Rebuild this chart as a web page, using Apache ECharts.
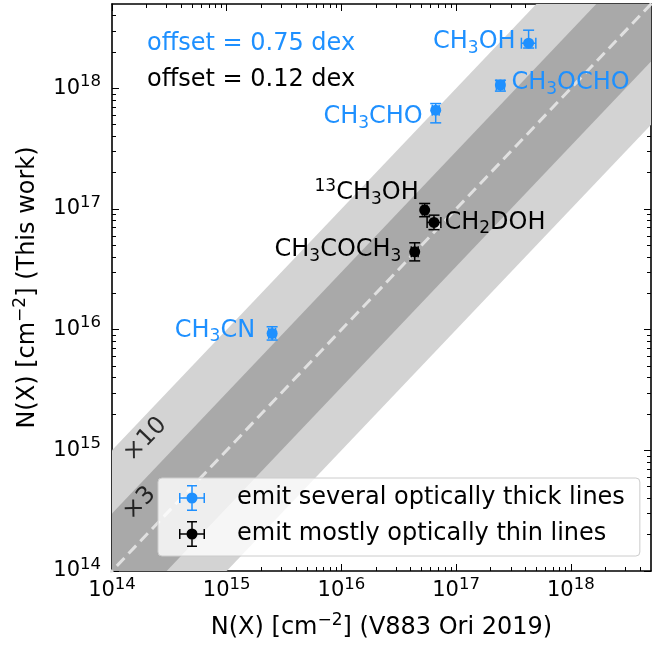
<!DOCTYPE html>
<html>
<head>
<meta charset="utf-8">
<script src="https://cdn.jsdelivr.net/npm/echarts@6/dist/echarts.min.js"></script>
<style>
  html, body { margin: 0; padding: 0; background: #fff; }
  #chart { width: 652px; height: 645px; }
</style>
</head>
<body>
<div id="chart"></div>
<script>
// log10 of column densities
const molecules = ["CH3OH", "CH3OCHO", "CH3CHO", "CH3CN", "13CH3OH", "CH2DOH", "CH3COCH3"];
const labelText = ["CH{s|3}OH", "CH{s|3}OCHO", "CH{s|3}CHO", "CH{s|3}CN", "{u|13}CH{s|3}OH", "CH{s|2}DOH", "CH{s|3}COCH{s|3}"];
const thick = [true, true, true, true, false, false, false];
const logV883 = [17.632, 17.386, 16.822, 15.396, 16.726, 16.807, 16.639];
const logThisWork = [18.374, 18.027, 17.819, 15.969, 16.991, 16.889, 16.645];
const xErrLo = [0.063, 0.035, 0.03, 0.03, 0.02, 0.06, 0.03];
const xErrHi = [0.063, 0.035, 0.03, 0.03, 0.02, 0.06, 0.03];
const yErrLo = [0.04, 0.05, 0.105, 0.055, 0.055, 0.06, 0.075];
const yErrHi = [0.108, 0.04, 0.055, 0.055, 0.055, 0.06, 0.075];

const bandDex = [1, Math.log10(3)]; // x10 and x3
const majorTicks = [14, 15, 16, 17, 18];
const axisMin = 14;
const axisMax = Math.log10(5e18);

const BLUE = "#1e90ff";
const FONT = "DejaVu Sans";
const thickName = "emit several optically thick lines";
const thinName = "emit mostly optically thin lines";

// label placement per molecule
const labelPlace = {
    "CH3OH": { position: "left", distance: 7.5, offset: [0, -1] },
    "CH3OCHO": { position: "right", distance: 5.5, offset: [0, -2] },
    "CH3CHO": { position: "left", distance: 7.5, offset: [0, 7] },
    "CH3CN": { position: "left", distance: 11.5, offset: [0, -3] },
    "13CH3OH": { position: "left", distance: 0.5, offset: [0, -17] },
    "CH2DOH": { position: "right", distance: 5, offset: [0, 0] },
    "CH3COCH3": { position: "left", distance: 7.8, offset: [0, -2] }
};

const minorTicks = [];
for (let n = 14; n <= 18; n++) {
    for (let k = 2; k <= 9; k++) {
        const v = n + Math.log10(k);
        if (v < axisMax) minorTicks.push(v);
    }
}

const tickLabel = v => "{b|10}{s|" + Math.round(v) + "}";
const tickRich = {
    b: { fontSize: 21, lineHeight: 30, fontFamily: FONT, color: "#000" },
    s: { fontSize: 16.5, lineHeight: 16, verticalAlign: "top", fontFamily: FONT, color: "#000" }
};
const nameRich = {
    u: { fontSize: 17, lineHeight: 12, verticalAlign: "top", fontFamily: FONT, color: "#000" }
};

const makeAxis = (dim, position, minor, labelled) => {
    const ax = {
        type: "value",
        position: position,
        min: axisMin,
        max: axisMax,
        splitLine: { show: false },
        axisLine: { show: !minor, onZero: false, lineStyle: { color: "#000", width: 1.6 } },
        axisTick: {
            show: true,
            inside: true,
            length: minor ? 4 : 7,
            customValues: minor ? minorTicks : majorTicks,
            lineStyle: { color: "#000", width: 1 }
        },
        axisLabel: { show: false }
    };
    if (labelled) {
        ax.axisLabel = {
            show: true,
            customValues: majorTicks,
            formatter: tickLabel,
            margin: dim === "x" ? 5 : 11,
            rich: tickRich
        };
        ax.name = dim === "x" ? "N(X) [cm{u|\u22122}] (V883 Ori 2019)" : "N(X) [cm{u|\u22122}] (This work)";
        ax.nameLocation = "middle";
        ax.nameGap = dim === "x" ? 41.5 : 67;
        ax.nameTextStyle = { fontSize: 24, lineHeight: 30, fontFamily: FONT, color: "#000", rich: nameRich };
    }
    return ax;
};

const pointData = flag => {
    const out = [];
    molecules.forEach((m, i) => {
        if (thick[i] !== flag) return;
        const p = labelPlace[m];
        out.push({
            value: [logV883[i], logThisWork[i]],
            label: {
                show: true,
                formatter: labelText[i],
                position: p.position,
                distance: p.distance,
                offset: p.offset
            }
        });
    });
    return out;
};

const errData = flag => {
    const out = [];
    molecules.forEach((m, i) => {
        if (thick[i] !== flag) return;
        out.push([logV883[i], logThisWork[i], xErrLo[i], xErrHi[i], yErrLo[i], yErrHi[i]]);
    });
    return out;
};

const errorRender = color => (params, api) => {
    const x = api.value(0);
    const y = api.value(1);
    const c = api.coord([x, y]);
    const l = api.coord([x - api.value(2), y])[0];
    const r = api.coord([x + api.value(3), y])[0];
    const b = api.coord([x, y - api.value(4)])[1];
    const t = api.coord([x, y + api.value(5)])[1];
    const cap = 5.5;
    const style = { stroke: color, lineWidth: 1.5, fill: null };
    const seg = (x1, y1, x2, y2) => ({ type: "line", shape: { x1, y1, x2, y2 }, style });
    return {
        type: "group",
        children: [
            seg(l, c[1], r, c[1]),
            seg(l, c[1] - cap, l, c[1] + cap),
            seg(r, c[1] - cap, r, c[1] + cap),
            seg(c[0], b, c[0], t),
            seg(c[0] - cap, b, c[0] + cap, b),
            seg(c[0] - cap, t, c[0] + cap, t)
        ]
    };
};

const bandRender = color => (params, api) => {
    const d = api.value(2);
    const pts = [[12, 12 - d], [21, 21 - d], [21, 21 + d], [12, 12 + d]].map(p => api.coord(p));
    return { type: "polygon", shape: { points: pts }, style: { fill: color, stroke: null } };
};

// legend icon: circle with x and y error bars
const ICON = "path://M0 12.25H26V13.75H0Z M12.25 0H13.75V26H12.25Z M0 8H1.5V18H0Z M24.5 8H26V18H24.5Z " +
    "M8 0H18V1.5H8Z M8 24.5H18V26H8Z M7.5 13A5.5 5.5 0 1 1 18.5 13A5.5 5.5 0 1 1 7.5 13Z";

const chart = echarts.init(document.getElementById("chart"), null, { renderer: "canvas" });

const option = {
    animation: false,
    backgroundColor: "#fff",
    textStyle: { fontFamily: FONT },
    grid: { left: 112, right: 1, top: 4, bottom: 74, containLabel: false, outerBoundsMode: "none" },
    xAxis: [
        makeAxis("x", "bottom", false, true),
        makeAxis("x", "bottom", true, false),
        makeAxis("x", "top", false, false),
        makeAxis("x", "top", true, false)
    ],
    yAxis: [
        makeAxis("y", "left", false, true),
        makeAxis("y", "left", true, false),
        makeAxis("y", "right", false, false),
        makeAxis("y", "right", true, false)
    ],
    legend: {
        left: 158,
        top: 478,
        orient: "vertical",
        itemWidth: 26,
        itemHeight: 26,
        itemGap: 10,
        padding: [7, 15, 9, 21],
        backgroundColor: "rgba(255,255,255,0.8)",
        borderColor: "#cccccc",
        borderWidth: 1,
        borderRadius: 4,
        itemStyle: { borderWidth: 0 },
        textStyle: { fontSize: 24, lineHeight: 26, color: "#000", fontFamily: FONT, padding: [0, 0, 0, 27] },
        data: [
            { name: thickName, icon: ICON },
            { name: thinName, icon: ICON }
        ]
    },
    graphic: [
        { type: "text", style: { x: 147, y: 44, text: "offset = 0.75 dex", fill: BLUE, font: "24px \"DejaVu Sans\"", verticalAlign: "middle" } },
        { type: "text", style: { x: 147, y: 80, text: "offset = 0.12 dex", fill: "#000", font: "24px \"DejaVu Sans\"", verticalAlign: "middle" } }
    ],
    series: [
        {
            type: "custom",
            clip: true,
            silent: true,
            renderItem: bandRender("#d3d3d3"),
            encode: { x: 0, y: 1 },
            data: [[16, 16, bandDex[0]]],
            z: 1
        },
        {
            type: "custom",
            clip: true,
            silent: true,
            renderItem: bandRender("#a9a9a9"),
            encode: { x: 0, y: 1 },
            data: [[16, 16, bandDex[1]]],
            z: 1
        },
        {
            type: "line",
            clip: true,
            silent: true,
            showSymbol: false,
            lineStyle: { color: "#e0e0e0", width: 3, type: [11, 6] },
            data: [[12, 12], [21, 21]],
            z: 2
        },
        {
            // band annotations, placed in data space
            type: "scatter",
            symbolSize: 0,
            silent: true,
            label: { show: true, position: "inside", rotate: 46, fontSize: 24, color: "#000", fontFamily: FONT, formatter: p => p.data[2] },
            data: [[14.29, 15.09, "\u00d710"], [14.24, 14.56, "\u00d73"]],
            z: 2
        },
        {
            name: thickName,
            type: "custom",
            renderItem: errorRender(BLUE),
            encode: { x: 0, y: 1 },
            itemStyle: { color: BLUE },
            data: errData(true),
            z: 3
        },
        {
            name: thinName,
            type: "custom",
            renderItem: errorRender("#000"),
            encode: { x: 0, y: 1 },
            itemStyle: { color: "#000" },
            data: errData(false),
            z: 3
        },
        {
            name: thickName,
            type: "scatter",
            symbol: "circle",
            symbolSize: 11,
            itemStyle: { color: BLUE, opacity: 1 },
            label: {
                fontSize: 24, lineHeight: 30, color: BLUE, fontFamily: FONT,
                rich: {
                    s: { fontSize: 17, lineHeight: 17, verticalAlign: "bottom", color: BLUE, fontFamily: FONT },
                    u: { fontSize: 17, lineHeight: 22, verticalAlign: "top", color: BLUE, fontFamily: FONT }
                }
            },
            data: pointData(true),
            z: 4
        },
        {
            name: thinName,
            type: "scatter",
            symbol: "circle",
            symbolSize: 11,
            itemStyle: { color: "#000", opacity: 1 },
            label: {
                fontSize: 24, lineHeight: 30, color: "#000", fontFamily: FONT,
                rich: {
                    s: { fontSize: 17, lineHeight: 17, verticalAlign: "bottom", color: "#000", fontFamily: FONT },
                    u: { fontSize: 17, lineHeight: 22, verticalAlign: "top", color: "#000", fontFamily: FONT }
                }
            },
            data: pointData(false),
            z: 4
        }
    ]
};

chart.setOption(option);
</script>
</body>
</html>
